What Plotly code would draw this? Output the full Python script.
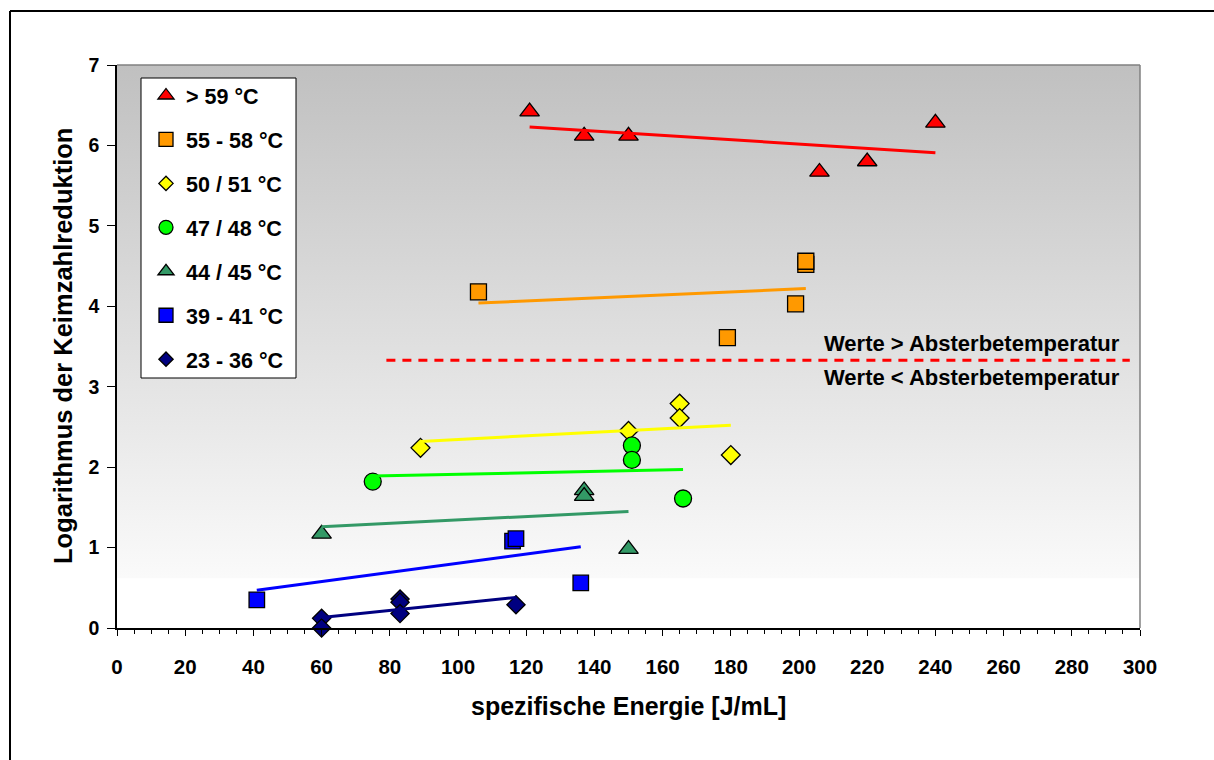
import plotly.graph_objects as go

FONT = "Liberation Sans"

# ---------------- data ----------------
series_names = ["> 59 °C", "55 - 58 °C", "50 / 51 °C", "47 / 48 °C",
                "44 / 45 °C", "39 - 41 °C", "23 - 36 °C"]

x_s1 = [121, 137, 150, 206, 220, 240]
y_s1 = [6.42, 6.12, 6.12, 5.67, 5.80, 6.28]
x_s2 = [106, 202, 202, 199, 179]
y_s2 = [4.18, 4.52, 4.56, 4.03, 3.61]
x_s3 = [89, 150, 165, 165, 180]
y_s3 = [2.24, 2.45, 2.79, 2.61, 2.15]
x_s4 = [75, 151, 151, 166]
y_s4 = [1.82, 2.27, 2.09, 1.61]
x_s5 = [60, 137, 137, 150]
y_s5 = [1.17, 1.71, 1.64, 0.98]
x_s6 = [41, 116, 117, 136]
y_s6 = [0.35, 1.08, 1.11, 0.56]
x_s7 = [60, 60, 83, 83, 83, 117]
y_s7 = [0.12, 0.00, 0.36, 0.32, 0.18, 0.29]

# linear trend lines (start / end as drawn in the picture)
trend_x_s1 = [121, 240]; trend_y_s1 = [6.23, 5.91]
trend_x_s2 = [106, 202]; trend_y_s2 = [4.04, 4.22]
trend_x_s3 = [89, 180];  trend_y_s3 = [2.32, 2.52]
trend_x_s4 = [75, 166];  trend_y_s4 = [1.89, 1.97]
trend_x_s5 = [60, 150];  trend_y_s5 = [1.26, 1.45]
trend_x_s6 = [41, 136];  trend_y_s6 = [0.47, 1.01]
trend_x_s7 = [60, 117];  trend_y_s7 = [0.13, 0.38]

threshold_x = [79, 297]
threshold_y = [3.33, 3.33]

x_ticks = list(range(0, 301, 20))
y_ticks = list(range(0, 8))

# ---------------- styles ----------------
xs = [x_s1, x_s2, x_s3, x_s4, x_s5, x_s6, x_s7]
ys = [y_s1, y_s2, y_s3, y_s4, y_s5, y_s6, y_s7]
txs = [trend_x_s1, trend_x_s2, trend_x_s3, trend_x_s4, trend_x_s5, trend_x_s6, trend_x_s7]
tys = [trend_y_s1, trend_y_s2, trend_y_s3, trend_y_s4, trend_y_s5, trend_y_s6, trend_y_s7]
colors = ["#ff0000", "#ff9900", "#ffff00", "#00ff00", "#339966", "#0000ff", "#000080"]
symbols = ["triangle-up", "square", "diamond", "circle", "triangle-up", "square", "diamond"]
sizes = [17, 16, 14.5, 17, 17, 15.5, 14]
legend_sizes = [14, 14, 11, 14, 14, 14, 11]

fig = go.Figure()

# plot-area background gradient (grey at top fading to white)
fig.add_trace(go.Scatter(
    x=[0, 300, 300, 0, 0], y=[0.62, 0.62, 7, 7, 0.62],
    mode="lines", line=dict(width=0, color="rgba(0,0,0,0)"),
    fill="toself",
    fillgradient=dict(type="vertical", colorscale=[[0, "#fafafa"], [1, "#c0c0c0"]]),
    hoverinfo="skip", showlegend=False))

# markers
for i in range(7):
    fig.add_trace(go.Scatter(
        x=xs[i], y=ys[i], mode="markers", name=series_names[i],
        marker=dict(symbol=symbols[i], size=sizes[i], color=colors[i],
                    line=dict(color="#000000", width=1.3)),
        cliponaxis=False, showlegend=False))

# trend lines
for i in range(7):
    fig.add_trace(go.Scatter(
        x=txs[i], y=tys[i], mode="lines",
        line=dict(color=colors[i], width=3),
        hoverinfo="skip", showlegend=False))

# threshold line
fig.add_trace(go.Scatter(
    x=threshold_x, y=threshold_y, mode="lines",
    line=dict(color="#ff0000", width=3, dash="9px,7px"),
    hoverinfo="skip", showlegend=False))

# legend entries
for i in range(7):
    fig.add_trace(go.Scatter(
        x=[None], y=[None], mode="markers", name=series_names[i],
        legendgroup="g%d" % i,
        marker=dict(symbol=symbols[i], size=legend_sizes[i], color=colors[i],
                    line=dict(color="#000000", width=1.3))))

W, H = 1214, 760
L, R, T, B = 117, 74, 65, 132
pw, ph = W - L - R, H - T - B


def px(xp):
    return (xp - L) / pw


def py(yp):
    return (H - B - yp) / ph


bold = dict(family=FONT, color="#000000", weight="bold")

fig.update_layout(
    width=W, height=H,
    margin=dict(l=L, r=R, t=T, b=B, pad=0),
    paper_bgcolor="#ffffff", plot_bgcolor="#ffffff",
    showlegend=True,
    legend=dict(x=px(146), y=py(75), xanchor="left", yanchor="top",
                bgcolor="rgba(0,0,0,0)", borderwidth=0,
                font=dict(size=21.5, **bold), tracegroupgap=13,
                traceorder="grouped"),
    xaxis=dict(range=[0, 300], tickvals=x_ticks, ticks="outside", ticklen=6,
               tickwidth=1, tickcolor="#000000", showline=True, linecolor="#000000",
               linewidth=1.5, showgrid=False, zeroline=False,
               tickfont=dict(size=20.5, **bold), ticklabelstandoff=14,
               minor=dict(dtick=5, tick0=0, ticks="outside", ticklen=4,
                          tickcolor="#000000", showgrid=False)),
    yaxis=dict(range=[0, 7], tickvals=y_ticks, ticks="outside", ticklen=8,
               tickwidth=1, tickcolor="#000000", showline=True, linecolor="#000000",
               linewidth=1.5, showgrid=False, zeroline=False,
               tickfont=dict(size=19.5, **bold), ticklabelstandoff=4),
    shapes=[
        # plot area top / right border
        dict(type="line", xref="paper", yref="paper", x0=0, x1=1, y0=1, y1=1,
             line=dict(color="#808080", width=1.5)),
        dict(type="line", xref="paper", yref="paper", x0=1, x1=1, y0=0, y1=1,
             line=dict(color="#808080", width=1.5)),
        # legend box
        dict(type="rect", xref="paper", yref="paper",
             x0=px(141), x1=px(296), y0=py(378), y1=py(78),
             fillcolor="#ffffff", line=dict(color="#000000", width=1), layer="above"),
        # outer chart frame (top and left edges visible)
        dict(type="line", xref="paper", yref="paper", x0=px(10), x1=px(1230),
             y0=py(11), y1=py(11), line=dict(color="#000000", width=2)),
        dict(type="line", xref="paper", yref="paper", x0=px(10), x1=px(10),
             y0=py(11), y1=py(780), line=dict(color="#000000", width=2)),
    ],
    annotations=[
        dict(text="Werte > Absterbetemperatur", x=294.8, y=3.54, xref="x", yref="y",
             xanchor="right", yanchor="middle", showarrow=False,
             font=dict(size=22, **bold)),
        dict(text="Werte < Absterbetemperatur", x=294.8, y=3.12, xref="x", yref="y",
             xanchor="right", yanchor="middle", showarrow=False,
             font=dict(size=22, **bold)),
        dict(text="spezifische Energie [J/mL]", x=0.5, y=py(706), xref="paper",
             yref="paper", xanchor="center", yanchor="middle", showarrow=False,
             font=dict(size=25, **bold)),
        dict(text="Logarithmus der Keimzahlreduktion", x=px(63), y=py(346),
             xref="paper", yref="paper", xanchor="center", yanchor="middle",
             textangle=-90, showarrow=False, font=dict(size=25.5, **bold)),
    ],
)

fig.write_html("out.html")
